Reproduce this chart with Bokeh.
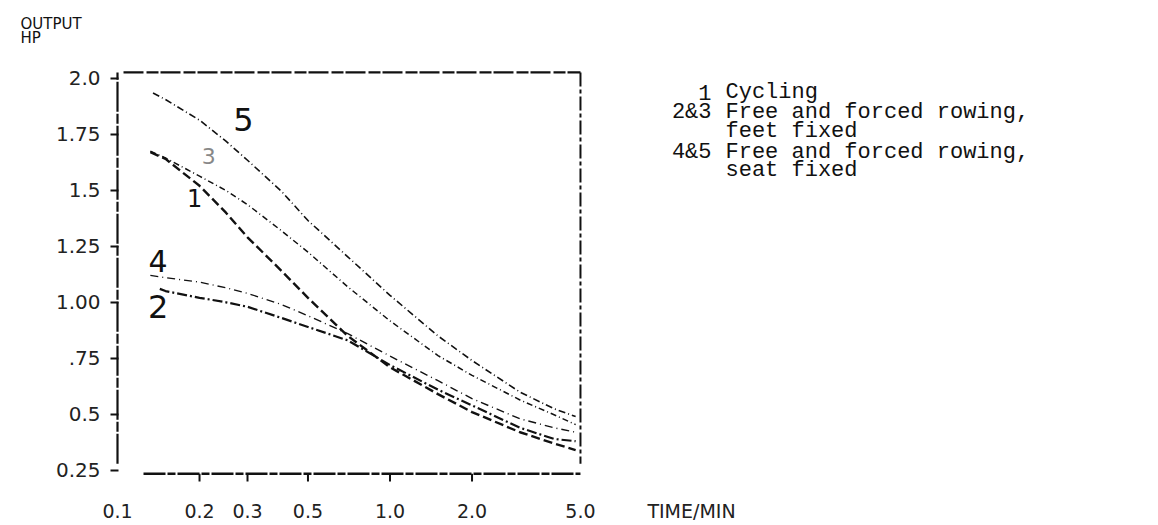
from bokeh.plotting import figure
from bokeh.models import Range1d, FixedTicker
from bokeh.core.properties import value
from bokeh.embed import file_html
from bokeh.resources import INLINE

# ---- data (time in minutes, output in HP) ----
x_c1 = [0.132, 0.15, 0.2, 0.25, 0.3, 0.4, 0.5, 0.7, 1.0, 1.5, 2.0, 3.0, 4.0, 4.8]
y_c1 = [1.67, 1.64, 1.52, 1.40, 1.29, 1.14, 1.02, 0.85, 0.71, 0.59, 0.51, 0.42, 0.37, 0.34]
x_c2 = [0.143, 0.15, 0.2, 0.25, 0.3, 0.4, 0.5, 0.7, 1.0, 1.5, 2.0, 3.0, 4.0, 4.8]
y_c2 = [1.06, 1.05, 1.02, 1.00, 0.98, 0.93, 0.89, 0.83, 0.72, 0.61, 0.54, 0.44, 0.39, 0.38]
x_c3 = [0.132, 0.15, 0.2, 0.25, 0.3, 0.4, 0.5, 0.7, 1.0, 1.5, 2.0, 3.0, 4.0, 4.8]
y_c3 = [1.675, 1.644, 1.563, 1.499, 1.436, 1.319, 1.224, 1.069, 0.917, 0.762, 0.674, 0.564, 0.498, 0.454]
x_c4 = [0.132, 0.15, 0.2, 0.25, 0.3, 0.4, 0.5, 0.7, 1.0, 1.5, 2.0, 3.0, 4.0, 4.8]
y_c4 = [1.12, 1.11, 1.09, 1.065, 1.04, 0.99, 0.94, 0.86, 0.76, 0.65, 0.57, 0.48, 0.44, 0.42]
x_c5 = [0.135, 0.15, 0.2, 0.25, 0.3, 0.4, 0.5, 0.7, 1.0, 1.5, 2.0, 3.0, 4.0, 4.8]
y_c5 = [1.934, 1.905, 1.813, 1.719, 1.634, 1.495, 1.365, 1.203, 1.031, 0.850, 0.740, 0.599, 0.525, 0.490]

curve_names = ["1", "2", "3", "4", "5"]
label_x = [0.192, 0.141, 0.216, 0.141, 0.290]
label_y = [1.464, 0.981, 1.653, 1.183, 1.815]

x_ticks = [0.1, 0.2, 0.3, 0.5, 1, 2, 5]
x_tick_labels = ["0.1", "0.2", "0.3", "0.5", "1.0", "2.0", "5.0"]
y_ticks = [0.25, 0.5, 0.75, 1, 1.25, 1.5, 1.75, 2]
y_tick_labels = ["0.25", "0.5", ".75", "1.00", "1.25", "1.5", "1.75", "2.0"]
x_title = "TIME/MIN"
y_title_lines = ["OUTPUT", "HP"]

legend_nums = ["1", "2&3", "", "4&5", ""]
legend_texts = ["Cycling", "Free and forced rowing,", "feet fixed",
                "Free and forced rowing,", "seat fixed"]

# chart box limits (axes of the original drawing)
X_MIN, X_MAX = 0.1, 5.0
Y_MIN, Y_MAX = 0.235, 2.026

# ---- layout / scale geometry (pixels) ----
W, H = 1150, 524
FL, FT, FB = 115, 68, 492           # frame left, top, bottom
PX_XMIN = 117                        # pixel of x = 0.1
DEC = 272.5                          # pixels per decade
PY_YMAX = 72                         # pixel of y = Y_MAX
YS = 227.8                           # pixels per HP


def px_x(px):
    return X_MIN * 10 ** ((px - PX_XMIN) / DEC)


def py_y(py):
    return Y_MAX - (py - PY_YMAX) / YS


p = figure(width=W, height=H, x_axis_type="log",
           x_range=Range1d(px_x(FL), px_x(W)), y_range=Range1d(py_y(FB), py_y(FT)),
           output_backend="svg", toolbar_location=None,
           min_border_left=FL, min_border_top=FT,
           min_border_right=0, min_border_bottom=H - FB)
p.grid.visible = False
p.background_fill_color = "white"
p.border_fill_color = "white"
p.outline_line_color = None

# y-axis title, top-left; a trailing blank line lifts it above the frame
p.title.text = "\n".join(y_title_lines) + "\n "
p.title.align = "left"
p.title.offset = 20 - FL
p.title.standoff = 14
p.title.text_font = "DejaVu Sans"
p.title.text_font_size = "15px"
p.title.text_line_height = 0.8
p.title.text_font_style = "normal"
p.title.text_color = "#111111"

ink = "#111111"
hand = value("DejaVu Sans")

# y axis (real Bokeh axis, line drawn separately)
ya = p.yaxis[0]
ya.ticker = FixedTicker(ticks=y_ticks)
ya.major_label_overrides = {t: l for t, l in zip(y_ticks, y_tick_labels)}
ya.axis_line_color = None
ya.minor_tick_line_color = None
ya.major_tick_line_color = ink
ya.major_tick_line_width = 2
ya.major_tick_out = 5
ya.major_tick_in = 3
ya.major_label_standoff = 10
ya.major_label_text_font = "DejaVu Sans"
ya.major_label_text_font_size = "20px"
ya.major_label_text_color = "#222222"

# x axis (labels only; axis line and tick marks drawn in the frame)
x_title_pos = px_x(691)
xa = p.xaxis[0]
xa.ticker = FixedTicker(ticks=x_ticks + [x_title_pos])
ov = {t: l for t, l in zip(x_ticks, x_tick_labels)}
ov[x_title_pos] = x_title
xa.major_label_overrides = ov
xa.axis_line_color = None
xa.major_tick_line_color = None
xa.minor_tick_line_color = None
xa.major_label_standoff = 8
xa.major_label_text_font = "DejaVu Sans"
xa.major_label_text_font_size = "19px"
xa.major_label_text_color = "#222222"

# chart box
p.line([px_x(143), X_MAX], [Y_MIN, Y_MIN], line_color=ink, line_width=2.6, line_dash="22 2 8 2")
p.line([X_MIN, X_MIN], [py_y(470), Y_MAX], line_color=ink, line_width=2.2, line_dash="30 2 10 2")
p.line([px_x(123), X_MAX], [Y_MAX, Y_MAX], line_color=ink, line_width=2.2, line_dash="20 3 12 2")
p.line([X_MAX, X_MAX], [Y_MAX, py_y(470)], line_color=ink, line_width=2.0, line_dash="14 3 4 3")
tick_len = 8 / YS
p.segment(x0=x_ticks[1:-1], y0=[Y_MIN] * 5, x1=x_ticks[1:-1], y1=[Y_MIN - tick_len] * 5,
          line_color=ink, line_width=2)

# ---- curves ----
styles = [
    (x_c1, y_c1, 2.4, "9 4"),
    (x_c2, y_c2, 2.2, "10 3 2 3"),
    (x_c3, y_c3, 1.5, "6 3 1 3"),
    (x_c4, y_c4, 1.4, "8 4 1 4"),
    (x_c5, y_c5, 1.6, "7 3 1 3"),
]
for xs, ys, w, d in styles:
    p.line(xs, ys, line_color=ink, line_width=w, line_dash=d)

sizes = ["24px", "32px", "22px", "30px", "32px"]
colors = [ink, ink, "#888888", ink, ink]
for n, lx, ly, s, c in zip(curve_names, label_x, label_y, sizes, colors):
    p.text(x=[lx], y=[ly], text=[n], text_font=hand, text_font_size=s,
           text_color=c, text_align="center", text_baseline="middle")

# ---- legend block (typewritten) ----
leg_py = [92, 113, 132, 153, 172]
mono = value("Liberation Mono")
nums = [(n, py_y(v)) for n, v in zip(legend_nums, leg_py) if n]
p.text(x=[px_x(711)] * len(nums), y=[v for _, v in nums], text=[n for n, _ in nums],
       text_font=mono, text_font_size="22px", text_color=ink,
       text_align="right", text_baseline="middle")
p.text(x=[px_x(725)] * len(legend_texts), y=[py_y(v) for v in leg_py], text=legend_texts,
       text_font=mono, text_font_size="22px", text_color=ink,
       text_align="left", text_baseline="middle")

open("out.html", "w").write(file_html(p, INLINE))
